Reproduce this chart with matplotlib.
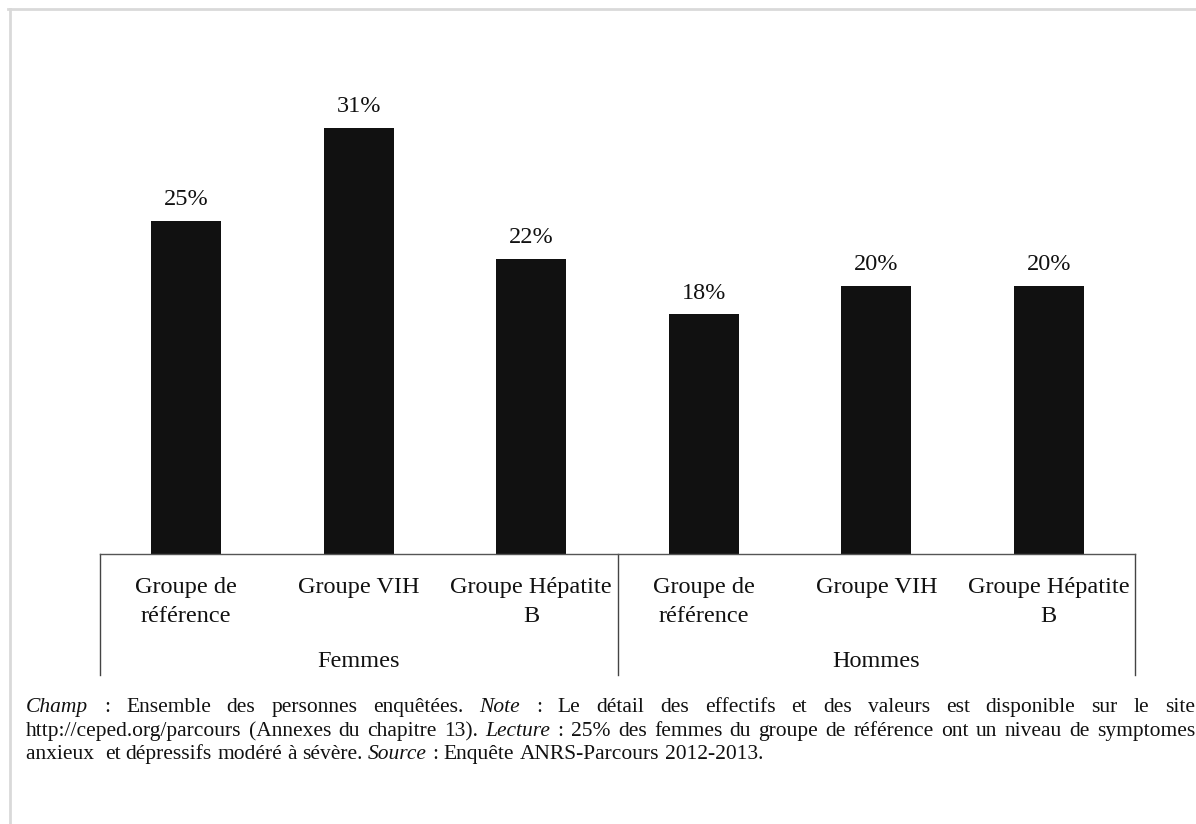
import matplotlib
matplotlib.use('Agg')
import matplotlib.pyplot as plt
from matplotlib.lines import Line2D
import matplotlib.transforms as mtransforms

plt.rcParams['font.family'] = ['Liberation Serif', 'DejaVu Serif']

# data
categories = ['Groupe de\nréférence', 'Groupe VIH', 'Groupe Hépatite\nB',
              'Groupe de\nréférence', 'Groupe VIH', 'Groupe Hépatite\nB']
groups = ['Femmes', 'Hommes']
values = [24.5, 31.3, 21.7, 17.6, 19.7, 19.7]
value_labels = ['25%', '31%', '22%', '18%', '20%', '20%']

footnote_lines = [
    [('Champ', True), (':', False), ('Ensemble', False), ('des', False), ('personnes', False),
     ('enquêtées.', False), ('Note', True), (':', False), ('Le', False), ('détail', False),
     ('des', False), ('effectifs', False), ('et', False), ('des', False), ('valeurs', False),
     ('est', False), ('disponible', False), ('sur', False), ('le', False), ('site', False)],
    [('http://ceped.org/parcours', False), ('(Annexes', False), ('du', False), ('chapitre', False),
     ('13).', False), ('Lecture', True), (':', False), ('25%', False), ('des', False),
     ('femmes', False), ('du', False), ('groupe', False), ('de', False), ('référence', False),
     ('ont', False), ('un', False), ('niveau', False), ('de', False), ('symptomes', False)],
    [('anxieux ', False), ('et', False), ('dépressifs', False), ('modéré', False), ('à', False),
     ('sévère.', False), ('Source', True), (':', False), ('Enquête', False),
     ('ANRS-Parcours', False), ('2012-2013.', False)],
]

W, H = 1196, 824
fig = plt.figure(figsize=(W / 100, H / 100), dpi=100)
fig.patch.set_facecolor('white')

# axes: x from 100 to 1135 px, baseline at y=554 px
ax_left, ax_right = 100 / W, 1135 / W
ax_bottom, ax_top = 1 - 554 / H, 1 - 60 / H
ax = fig.add_axes([ax_left, ax_bottom, ax_right - ax_left, ax_top - ax_bottom])

x = list(range(len(values)))
bars = ax.bar(x, values, width=0.406, color='#111111', zorder=2)
ax.set_xlim(-0.5, len(values) - 0.5)
ax.set_ylim(0, 36.3)

for b, lab in zip(bars, value_labels):
    ax.annotate(lab, (b.get_x() + b.get_width() / 2, b.get_height()),
                xytext=(0, 11.5), textcoords='offset points',
                ha='center', va='baseline', fontsize=17.5, color='#111111')

for sp in ['top', 'right', 'left']:
    ax.spines[sp].set_visible(False)
ax.spines['bottom'].set_color('#555555')
ax.spines['bottom'].set_linewidth(1.0)
ax.set_yticks([])
ax.set_xticks([])

trans = mtransforms.blended_transform_factory(ax.transData, ax.transAxes)
for i, cat in enumerate(categories):
    ax.annotate(cat, (i, 0), xycoords=trans, xytext=(0, -16.5), textcoords='offset points',
                ha='center', va='top', fontsize=17.5, linespacing=1.5, color='#111111')

n_per_group = len(categories) // len(groups)
for g, name in enumerate(groups):
    mid = g * n_per_group + (n_per_group - 1) / 2
    ax.annotate(name, (mid, 0), xycoords=trans, xytext=(0, -70), textcoords='offset points',
                ha='center', va='top', fontsize=17.5, color='#111111')

sep_depth = (675 - 554) / (554 - 60)
for g in range(len(groups) + 1):
    xs = g * n_per_group - 0.5
    ax.add_line(Line2D([xs, xs], [0, -sep_depth], transform=trans, color='#444444',
                       lw=1.0, clip_on=False))

# light frame at the top and left of the picture
fig.add_artist(Line2D([8 / W, 1], [1 - 8.5 / H, 1 - 8.5 / H], transform=fig.transFigure,
                      color='#d9d9d9', lw=2.0))
fig.add_artist(Line2D([9.5 / W, 9.5 / W], [0, 1 - 8.5 / H], transform=fig.transFigure,
                      color='#d9d9d9', lw=2.0))

# justified footnote, placed word by word
renderer = fig.canvas.get_renderer()
x0, x1 = 26, 1195
line_base = [712, 736, 759]
fs = 15.5
probe1 = fig.text(0, 0, 'a a', fontsize=fs)
probe2 = fig.text(0, 0, 'aa', fontsize=fs)
space = probe1.get_window_extent(renderer).width - probe2.get_window_extent(renderer).width
probe1.remove()
probe2.remove()
for li, words in enumerate(footnote_lines):
    arts = [fig.text(0, 1 - line_base[li] / H, w, fontsize=fs, va='baseline', ha='left',
                     style='italic' if it else 'normal', color='#111111')
            for w, it in words]
    widths = [a.get_window_extent(renderer).width for a in arts]
    if li < len(footnote_lines) - 1:
        gap = (x1 - x0 - sum(widths)) / (len(arts) - 1)
    else:
        gap = space
    xp = x0
    for a, w in zip(arts, widths):
        a.set_x(xp / W)
        xp += w + gap

fig.savefig('out.png', dpi=100)
